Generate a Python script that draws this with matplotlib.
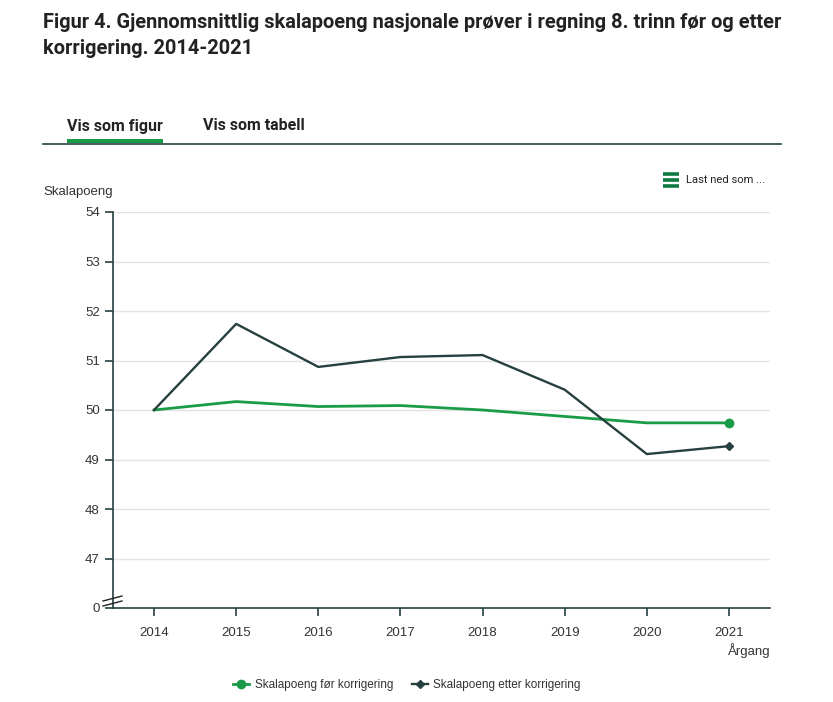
import matplotlib
matplotlib.use("Agg")
import matplotlib.pyplot as plt
from matplotlib.lines import Line2D
from matplotlib.patches import Rectangle

plt.rcParams['font.family'] = ['Liberation Sans', 'DejaVu Sans']

years = [2014, 2015, 2016, 2017, 2018, 2019, 2020, 2021]
for_korr = [50.0, 50.17, 50.07, 50.09, 50.0, 49.87, 49.74, 49.74]
etter_korr = [50.0, 51.74, 50.87, 51.07, 51.11, 50.41, 49.11, 49.27]
ytick_vals = [46, 47, 48, 49, 50, 51, 52, 53, 54]
ytick_labels = ['0', '47', '48', '49', '50', '51', '52', '53', '54']

green = '#1a9b48'
dark = '#26403f'
txt = '#222222'
roboto = ['Roboto', 'DejaVu Sans']

fig = plt.figure(figsize=(8.33, 7.02), dpi=100)
W, H = 833, 702

def fx(px):
    return px / W

def fy(py):
    return 1 - py / H

# title
fig.text(fx(43), fy(22), 'Figur 4. Gjennomsnittlig skalapoeng nasjonale prøver i regning 8. trinn før og etter',
         fontsize=14.4, fontweight='bold', color=txt, va='center', ha='left', family=roboto)
fig.text(fx(43), fy(48), 'korrigering. 2014-2021',
         fontsize=14.4, fontweight='bold', color=txt, va='center', ha='left', family=roboto)

# tabs
fig.text(fx(67), fy(126), 'Vis som figur', fontsize=11.5, fontweight='bold', color=txt, va='center', family=roboto)
fig.text(fx(203), fy(126), 'Vis som tabell', fontsize=11.5, fontweight='bold', color=txt, va='center', family=roboto)
fig.add_artist(Rectangle((fx(67), fy(143)), fx(163) - fx(67), 4 / H, transform=fig.transFigure,
                         color=green, lw=0))
fig.add_artist(Line2D([fx(43), fx(781)], [fy(144), fy(144)], transform=fig.transFigure,
                      color=dark, lw=1.2))

# download menu
for yy in (174, 180, 186):
    fig.add_artist(Line2D([fx(663), fx(679)], [fy(yy), fy(yy)], transform=fig.transFigure,
                          color='#0f7a40', lw=2.6, solid_capstyle='butt'))
fig.text(fx(686), fy(180), 'Last ned som ...', fontsize=8.1, color=txt, va='center', family=roboto)

ax = fig.add_axes([fx(113), fy(608), fx(770) - fx(113), fy(212) - fy(608)])
ax.plot(years, for_korr, color=green, lw=2, marker='o', ms=6, markevery=[-1],
        label='Skalapoeng før korrigering')
ax.plot(years, etter_korr, color=dark, lw=1.7, marker='D', ms=4.5, markevery=[-1],
        label='Skalapoeng etter korrigering')

ax.set_xlim(2013.5, 2021.5)
ax.set_ylim(46, 54)
ax.set_xticks(years)
ax.set_xticklabels([str(y) for y in years])
ax.set_yticks(ytick_vals)
ax.set_yticklabels(ytick_labels)
ax.tick_params(axis='both', colors=dark, labelcolor='#333333', labelsize=9.5, length=6, width=1.2)
ax.tick_params(axis='x', pad=8)
ax.grid(axis='y', color='#e3e3e3', lw=1)
ax.set_axisbelow(True)
for s in ['top', 'right']:
    ax.spines[s].set_visible(False)
for s in ['left', 'bottom']:
    ax.spines[s].set_color(dark)
    ax.spines[s].set_linewidth(1.2)

# axis break marks
for dy in (0, 5):
    fig.add_artist(Line2D([fx(103), fx(122)], [fy(601 + dy), fy(596 + dy)], transform=fig.transFigure,
                          color=txt, lw=1))

fig.text(fx(43), fy(192), 'Skalapoeng', fontsize=9.5, color='#333333', va='center')
fig.text(fx(771), fy(651), 'Årgang', fontsize=9.5, color='#333333', va='center', ha='right')

fig.legend(loc='center', bbox_to_anchor=(fx(407), fy(685)), ncol=2, frameon=False,
           fontsize=8.5, handlelength=1.35, columnspacing=1.6, handletextpad=0.45,
           labelcolor='#333333')

fig.savefig('out.png', dpi=100)
